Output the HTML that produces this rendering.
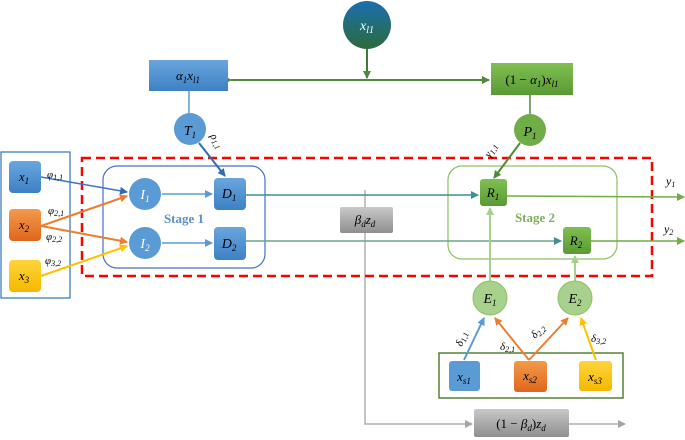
<!DOCTYPE html>
<html><head><meta charset="utf-8"><style>
html,body{margin:0;padding:0;background:#fff;}
svg{display:block;}
.m{font-family:"Liberation Serif",serif;font-style:italic;}
</style></head><body>
<svg width="685" height="440" viewBox="0 0 685 440" xmlns="http://www.w3.org/2000/svg">
<defs>
<linearGradient id="bl" x1="0" y1="0" x2="0" y2="1"><stop offset="0" stop-color="#6aa6de"/><stop offset="1" stop-color="#3d80c4"/></linearGradient>
<linearGradient id="gr" x1="0" y1="0" x2="0" y2="1"><stop offset="0" stop-color="#80bf50"/><stop offset="1" stop-color="#5a9a35"/></linearGradient>
<linearGradient id="gy" x1="0" y1="0" x2="0" y2="1"><stop offset="0" stop-color="#c8c8c8"/><stop offset="1" stop-color="#8f8f8f"/></linearGradient>
<linearGradient id="or" x1="0" y1="0" x2="0" y2="1"><stop offset="0" stop-color="#f39a4a"/><stop offset="1" stop-color="#e0661c"/></linearGradient>
<linearGradient id="ye" x1="0" y1="0" x2="0" y2="1"><stop offset="0" stop-color="#ffd43a"/><stop offset="1" stop-color="#f5b800"/></linearGradient>
<linearGradient id="xl" x1="0" y1="0" x2="0" y2="1"><stop offset="0" stop-color="#1a6fb0"/><stop offset="1" stop-color="#2c6a3a"/></linearGradient>
<marker id="aG" markerWidth="8" markerHeight="8" refX="7" refY="4" orient="auto" markerUnits="userSpaceOnUse"><path d="M0,0 L8,4 L0,8z" fill="#4f8a3a"/></marker>
<marker id="aB" markerWidth="8" markerHeight="8" refX="7" refY="4" orient="auto" markerUnits="userSpaceOnUse"><path d="M0,0 L8,4 L0,8z" fill="#2e6db4"/></marker>
<marker id="aLB" markerWidth="8" markerHeight="8" refX="7" refY="4" orient="auto" markerUnits="userSpaceOnUse"><path d="M0,0 L8,4 L0,8z" fill="#5b9bd5"/></marker>
<marker id="aO" markerWidth="8" markerHeight="8" refX="7" refY="4" orient="auto" markerUnits="userSpaceOnUse"><path d="M0,0 L8,4 L0,8z" fill="#ed7d31"/></marker>
<marker id="aY" markerWidth="8" markerHeight="8" refX="7" refY="4" orient="auto" markerUnits="userSpaceOnUse"><path d="M0,0 L8,4 L0,8z" fill="#ffc000"/></marker>
<marker id="aT" markerWidth="8" markerHeight="8" refX="7" refY="4" orient="auto" markerUnits="userSpaceOnUse"><path d="M0,0 L8,4 L0,8z" fill="#3f8f94"/></marker>
<marker id="aLG" markerWidth="8" markerHeight="8" refX="7" refY="4" orient="auto" markerUnits="userSpaceOnUse"><path d="M0,0 L8,4 L0,8z" fill="#70ad47"/></marker>
<marker id="aPG" markerWidth="8" markerHeight="8" refX="7" refY="4" orient="auto" markerUnits="userSpaceOnUse"><path d="M0,0 L8,4 L0,8z" fill="#a9d18e"/></marker>
<marker id="aGy" markerWidth="8" markerHeight="8" refX="7" refY="4" orient="auto" markerUnits="userSpaceOnUse"><path d="M0,0 L8,4 L0,8z" fill="#a6a6a6"/></marker>
</defs>

<!-- gray beta line -->
<polyline points="365,190 365,424 472,424" fill="none" stroke="#b0b0b0" stroke-width="1.5" marker-end="url(#aGy)"/>
<line x1="569" y1="424" x2="625" y2="424" stroke="#b0b0b0" stroke-width="1.5" marker-end="url(#aGy)"/>

<!-- top -->
<line x1="367" y1="49" x2="367" y2="78" stroke="#3d7a3a" stroke-width="2" marker-end="url(#aG)"/>
<line x1="231" y1="80" x2="489" y2="80" stroke="#4f8a3a" stroke-width="2" marker-start="url(#aG)" marker-end="url(#aG)"/>
<circle cx="367" cy="25" r="24" fill="url(#xl)"/>
<text x="367" y="30" class="m" font-size="14" fill="#fff" text-anchor="middle">x<tspan font-size="10" dy="3">l1</tspan></text>

<rect x="149" y="60" width="79" height="31" fill="url(#bl)"/>
<text x="188" y="80" class="m" font-size="13" text-anchor="middle">α<tspan font-size="9" dy="3">1</tspan><tspan dy="-3">x</tspan><tspan font-size="9" dy="3">l1</tspan></text>
<rect x="491" y="63" width="82" height="32" fill="url(#gr)"/>
<text x="532" y="84" class="m" font-size="13" text-anchor="middle"><tspan font-style="normal">(1 − </tspan>α<tspan font-size="9" dy="3">1</tspan><tspan dy="-3" font-style="normal">)</tspan>x<tspan font-size="9" dy="3">l1</tspan></text>

<line x1="189" y1="91" x2="189" y2="114" stroke="#5b9bd5" stroke-width="1.5"/>
<line x1="530" y1="95" x2="530" y2="114" stroke="#4f8a3a" stroke-width="1.5"/>

<!-- red dashed -->
<rect x="82" y="158" width="570" height="118" fill="none" stroke="#ff0000" stroke-width="2.5" stroke-dasharray="9,5"/>
<!-- left box -->
<rect x="1" y="152" width="69" height="146" fill="none" stroke="#2e75b6" stroke-width="1.2"/>
<!-- stage rects -->
<rect x="103" y="166" width="162" height="102" rx="14" fill="none" stroke="#4472c4" stroke-width="1.2"/>
<rect x="448" y="166" width="169" height="93" rx="14" fill="none" stroke="#8cc063" stroke-width="1.2"/>
<rect x="439" y="353" width="184" height="45" fill="none" stroke="#548235" stroke-width="1.5"/>

<!-- connectors -->
<line x1="41" y1="177" x2="127" y2="192" stroke="#4472c4" stroke-width="1.5" marker-end="url(#aB)"/>
<line x1="41" y1="226" x2="127" y2="196" stroke="#ed7d31" stroke-width="2" marker-end="url(#aO)"/>
<line x1="41" y1="226" x2="127" y2="242" stroke="#ed7d31" stroke-width="2" marker-end="url(#aO)"/>
<line x1="41" y1="276" x2="127" y2="246" stroke="#ffc000" stroke-width="2" marker-end="url(#aY)"/>
<line x1="162" y1="194" x2="212" y2="194" stroke="#5b9bd5" stroke-width="1.5" marker-end="url(#aLB)"/>
<line x1="162" y1="243" x2="212" y2="243" stroke="#5b9bd5" stroke-width="1.5" marker-end="url(#aLB)"/>
<line x1="199" y1="143" x2="225" y2="176" stroke="#2e6db4" stroke-width="2" marker-end="url(#aB)"/>
<line x1="520" y1="143" x2="494" y2="178" stroke="#4f8a3a" stroke-width="2" marker-end="url(#aG)"/>
<line x1="246" y1="195" x2="478" y2="195" stroke="#3f8f94" stroke-width="1.5" marker-end="url(#aT)"/>
<line x1="246" y1="241" x2="561" y2="241" stroke="#6aa58a" stroke-width="1.5" marker-end="url(#aT)"/>
<line x1="507" y1="196" x2="684" y2="197" stroke="#70ad47" stroke-width="1.5" marker-end="url(#aLG)"/>
<line x1="591" y1="241" x2="684" y2="241" stroke="#70ad47" stroke-width="1.5" marker-end="url(#aLG)"/>
<line x1="490" y1="281" x2="490" y2="208" stroke="#a9d18e" stroke-width="2" marker-end="url(#aPG)"/>
<line x1="575" y1="281" x2="575" y2="256" stroke="#a9d18e" stroke-width="2" marker-end="url(#aPG)"/>
<line x1="464" y1="360" x2="484" y2="318" stroke="#5b9bd5" stroke-width="2" marker-end="url(#aLB)"/>
<line x1="529" y1="360" x2="495" y2="318" stroke="#ed7d31" stroke-width="2" marker-end="url(#aO)"/>
<line x1="529" y1="360" x2="568" y2="318" stroke="#ed7d31" stroke-width="2" marker-end="url(#aO)"/>
<line x1="596" y1="360" x2="581" y2="318" stroke="#ffc000" stroke-width="2" marker-end="url(#aY)"/>

<!-- circles -->
<circle cx="190" cy="129" r="16" fill="#5b9bd5"/>
<text x="190" y="135" class="m" font-size="14" text-anchor="middle">T<tspan font-size="9" dy="3">1</tspan></text>
<circle cx="530" cy="130" r="16" fill="#70ad47"/>
<text x="530" y="136" class="m" font-size="14" text-anchor="middle">P<tspan font-size="9" dy="3">1</tspan></text>
<circle cx="145" cy="194" r="16" fill="#5b9bd5"/>
<text x="145" y="199" class="m" font-size="14" fill="#fff" text-anchor="middle">I<tspan font-size="9" dy="3">1</tspan></text>
<circle cx="145" cy="243" r="16" fill="#5b9bd5"/>
<text x="145" y="248" class="m" font-size="14" fill="#fff" text-anchor="middle">I<tspan font-size="9" dy="3">2</tspan></text>
<circle cx="490" cy="298" r="17" fill="#a9d18e" stroke="#8cc063"/>
<text x="490" y="303" class="m" font-size="14" text-anchor="middle">E<tspan font-size="9" dy="3">1</tspan></text>
<circle cx="575" cy="298" r="17" fill="#a9d18e" stroke="#8cc063"/>
<text x="575" y="303" class="m" font-size="14" text-anchor="middle">E<tspan font-size="9" dy="3">2</tspan></text>

<!-- boxes -->
<rect x="9" y="161" width="32" height="32" rx="4" fill="url(#bl)"/>
<text x="24" y="181" class="m" font-size="13" text-anchor="middle">x<tspan font-size="9" dy="3">1</tspan></text>
<rect x="9" y="209" width="32" height="32" rx="4" fill="url(#or)"/>
<text x="24" y="229" class="m" font-size="13" text-anchor="middle">x<tspan font-size="9" dy="3">2</tspan></text>
<rect x="9" y="260" width="32" height="32" rx="4" fill="url(#ye)"/>
<text x="24" y="280" class="m" font-size="13" text-anchor="middle">x<tspan font-size="9" dy="3">3</tspan></text>
<rect x="214" y="178" width="32" height="32" rx="4" fill="url(#bl)"/>
<text x="229" y="198" class="m" font-size="14" text-anchor="middle">D<tspan font-size="9" dy="3">1</tspan></text>
<rect x="214" y="227" width="32" height="33" rx="4" fill="url(#bl)"/>
<text x="229" y="248" class="m" font-size="14" text-anchor="middle">D<tspan font-size="9" dy="3">2</tspan></text>
<rect x="480" y="179" width="27" height="27" rx="3" fill="url(#gr)"/>
<text x="493" y="197" class="m" font-size="13" text-anchor="middle">R<tspan font-size="9" dy="3">1</tspan></text>
<rect x="563" y="227" width="28" height="27" rx="3" fill="url(#gr)"/>
<text x="576" y="245" class="m" font-size="13" text-anchor="middle">R<tspan font-size="9" dy="3">2</tspan></text>
<rect x="340" y="207" width="53" height="26" rx="2" fill="url(#gy)"/>
<text x="365" y="224" class="m" font-size="13" text-anchor="middle">β<tspan font-size="9" dy="3">d</tspan><tspan dy="-3">z</tspan><tspan font-size="9" dy="3">d</tspan></text>
<rect x="474" y="409" width="95" height="28" rx="2" fill="url(#gy)"/>
<text x="521" y="428" class="m" font-size="13" text-anchor="middle"><tspan font-style="normal">(1 − </tspan>β<tspan font-size="9" dy="3">d</tspan><tspan dy="-3" font-style="normal">)</tspan>z<tspan font-size="9" dy="3">d</tspan></text>
<rect x="449" y="361" width="31" height="30" rx="3" fill="#5b9bd5"/>
<text x="464" y="381" class="m" font-size="13" text-anchor="middle">x<tspan font-size="9" dy="3">s1</tspan></text>
<rect x="514" y="361" width="33" height="31" rx="3" fill="url(#or)"/>
<text x="530" y="380" class="m" font-size="13" text-anchor="middle">x<tspan font-size="9" dy="3">s2</tspan></text>
<rect x="579" y="361" width="33" height="30" rx="3" fill="url(#ye)"/>
<text x="595" y="381" class="m" font-size="13" text-anchor="middle">x<tspan font-size="9" dy="3">s3</tspan></text>

<!-- labels -->
<text x="184" y="223" font-family="Liberation Serif,serif" font-weight="bold" font-size="13" fill="#5b8fcb" text-anchor="middle">Stage 1</text>
<text x="535" y="222" font-family="Liberation Serif,serif" font-weight="bold" font-size="13" fill="#7fb05a" text-anchor="middle">Stage 2</text>
<text x="47" y="178" class="m" font-size="11">φ<tspan font-size="8" dy="2">1,1</tspan></text>
<text x="48" y="214" class="m" font-size="11">φ<tspan font-size="8" dy="2">2,1</tspan></text>
<text x="46" y="240" class="m" font-size="11">φ<tspan font-size="8" dy="2">2,2</tspan></text>
<text x="45" y="264" class="m" font-size="11">φ<tspan font-size="8" dy="2">3,2</tspan></text>
<text x="210" y="136" class="m" font-size="11" transform="rotate(60 210 136)">ρ<tspan font-size="8" dy="2">1,1</tspan></text>
<text x="490" y="158" class="m" font-size="11" transform="rotate(-60 490 158)">γ<tspan font-size="8" dy="2">1,1</tspan></text>
<text x="666" y="185" class="m" font-size="12">y<tspan font-size="8" dy="2">1</tspan></text>
<text x="664" y="233" class="m" font-size="12">y<tspan font-size="8" dy="2">2</tspan></text>
<text x="462" y="347" class="m" font-size="11" transform="rotate(-70 462 347)">δ<tspan font-size="8" dy="2">1,1</tspan></text>
<text x="500" y="350" class="m" font-size="11">δ<tspan font-size="8" dy="2">2,1</tspan></text>
<text x="535" y="339" class="m" font-size="11" transform="rotate(-45 535 339)">δ<tspan font-size="8" dy="2">2,2</tspan></text>
<text x="591" y="342" class="m" font-size="11">δ<tspan font-size="8" dy="2">3,2</tspan></text>
</svg>
</body></html>
